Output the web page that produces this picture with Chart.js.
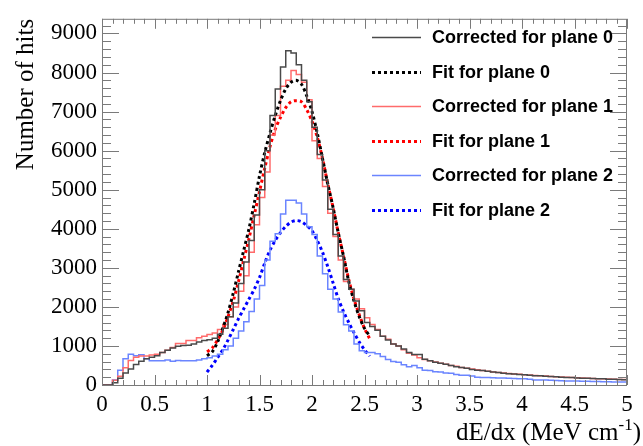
<!DOCTYPE html>
<html>
<head>
<meta charset="utf-8">
<script src="https://cdn.jsdelivr.net/npm/chart.js@4/dist/chart.umd.min.js"></script>
<style>
  html, body { margin: 0; padding: 0; background: #fff; }
  #wrap { width: 643px; height: 446px; }
</style>
</head>
<body>
<div id="wrap"><canvas id="dedxChart" width="643" height="446"></canvas></div>
<script>
// histogram bins: 100 bins of 0.05 from 0 to 5 (values = low edge)
const binWidth = 0.05;
const nBins = 100;

const histPlane0 = [
  0, 0, 60, 175, 310, 410, 525, 610, 670, 710,
  750, 830, 890, 950, 990, 1010, 1020, 1050, 1100, 1140,
  1160, 1200, 1300, 1450, 1750, 2100, 2600, 3150, 3700, 4350,
  5000, 6000, 6900, 7580, 8140, 8560, 8500, 8200, 7800, 7250,
  6600, 5900, 5250, 4500, 3850, 3300, 2700, 2450, 2150, 1900,
  1600, 1500, 1400, 1250, 1150, 1050, 1000, 920, 830, 780,
  780, 660, 620, 580, 560, 530, 500, 470, 450, 430,
  400, 380, 370, 350, 330, 320, 300, 290, 280, 270,
  260, 250, 240, 235, 225, 220, 210, 200, 195, 190,
  180, 175, 170, 168, 160, 158, 150, 145, 140, 135
];

const histPlane1 = [
  0, 0, 120, 225, 440, 625, 710, 740, 740, 770,
  790, 830, 890, 960, 1060, 1060, 1140, 1140, 1210, 1250,
  1290, 1330, 1420, 1550, 1750, 2000, 2400, 2800, 3400, 4100,
  4800, 5450, 6400, 6900, 7650, 7800, 8050, 7950, 7750, 7300,
  6250, 5800, 5080, 4400, 3800, 3200, 2650, 2450, 2200, 1950,
  1720, 1550, 1420, 1250, 1170, 1050, 1000, 900, 810, 770,
  700, 650, 620, 590, 560, 530, 500, 480, 450, 430,
  410, 390, 370, 350, 335, 320, 305, 295, 280, 275,
  265, 255, 245, 235, 228, 220, 212, 205, 198, 190,
  185, 178, 172, 168, 162, 158, 152, 148, 142, 138
];

const histPlane2 = [
  0, 0, 125, 375, 670, 790, 750, 775, 670, 620,
  620, 620, 640, 610, 630, 620, 620, 620, 640, 670,
  700, 740, 790, 900, 1000, 1200, 1380, 1620, 1880, 2200,
  2550, 3200, 3680, 3870, 4380, 4730, 4730, 4660, 4380, 4050,
  3850, 3300, 2850, 2450, 2200, 1870, 1540, 1380, 1050, 880,
  830, 830, 800, 730, 650, 600, 580, 520, 470, 500,
  440, 380, 370, 340, 330, 310, 300, 270, 250, 250,
  230, 200, 195, 190, 185, 180, 180, 170, 165, 160,
  160, 150, 130, 130, 125, 120, 115, 110, 105, 100,
  100, 95, 95, 90, 90, 85, 85, 80, 80, 80
];

// fit curves
const fitX = [
  1.0, 1.05, 1.1, 1.15, 1.2, 1.25, 1.3, 1.35, 1.4, 1.45,
  1.5, 1.55, 1.6, 1.65, 1.7, 1.75, 1.8, 1.85, 1.9, 1.95,
  2.0, 2.05, 2.1, 2.15, 2.2, 2.25, 2.3, 2.35, 2.4, 2.45,
  2.5, 2.55
];
const fitPlane0 = [
  750, 850, 1100, 1450, 1850, 2350, 2900, 3450, 4000, 4650,
  5350, 5950, 6450, 6900, 7280, 7580, 7750, 7800, 7700, 7400,
  7000, 6450, 5800, 5150, 4550, 3900, 3300, 2650, 2150, 1750,
  1450, 1250
];
const fitPlane1 = [
  850, 950, 1150, 1400, 1750, 2150, 2650, 3200, 3750, 4350,
  4950, 5550, 6100, 6550, 6850, 7100, 7250, 7280, 7250, 7050,
  6750, 6350, 5800, 5150, 4550, 3900, 3300, 2700, 2200, 1800,
  1450, 1180
];
const fitPlane2 = [
  330, 500, 700, 900, 1150, 1420, 1700, 1950, 2200, 2450,
  2750, 3120, 3450, 3700, 3900, 4060, 4170, 4210, 4180, 4080,
  3950, 3700, 3400, 3030, 2620, 2210, 1880, 1600, 1340, 1100,
  900, 740
];

const labels = [
  'Corrected for plane 0', 'Fit for plane 0',
  'Corrected for plane 1', 'Fit for plane 1',
  'Corrected for plane 2', 'Fit for plane 2'
];

const xTickValues = [0, 0.5, 1, 1.5, 2, 2.5, 3, 3.5, 4, 4.5, 5];
const yTickValues = [0, 1000, 2000, 3000, 4000, 5000, 6000, 7000, 8000, 9000];

const xMin = 0, xMax = 5;
const yMin = 0, yMax = 9375;

function histPoints(vals) {
  const pts = vals.map((v, i) => ({ x: i * binWidth, y: v }));
  pts.push({ x: nBins * binWidth, y: vals[vals.length - 1] });
  return pts;
}
function fitPoints(vals) {
  return fitX.map((x, i) => ({ x: x, y: vals[i] }));
}

function histSet(label, vals, color) {
  return {
    label: label, data: histPoints(vals), stepped: 'before',
    borderColor: color, borderWidth: 1.5, pointRadius: 0, fill: false
  };
}
function fitSet(label, vals, color) {
  return {
    label: label, data: fitPoints(vals), tension: 0.3,
    borderColor: color, borderWidth: 3, borderDash: [3, 3],
    borderCapStyle: 'butt', pointRadius: 0, fill: false
  };
}

const serif = '"Liberation Serif", "Times New Roman", serif';
const sans = '"Liberation Sans", Arial, Helvetica, sans-serif';
const frameColor = '#7a7a7a';

// ROOT-like frame, inner ticks, axis titles and legend
const rootStyle = {
  id: 'rootStyle',
  afterDraw(chart) {
    const ctx = chart.ctx;
    const a = chart.chartArea;
    const xs = chart.scales.x, ys = chart.scales.y;
    ctx.save();
    ctx.strokeStyle = frameColor;
    ctx.lineWidth = 1;
    ctx.strokeRect(a.left + 0.5, a.top + 0.5, a.right - a.left - 1, a.bottom - a.top);

    ctx.beginPath();
    for (let k = 0; k <= 50; k++) {
      const v = k * 0.1;
      const px = Math.round(xs.getPixelForValue(v)) + 0.5;
      const len = (k % 5 === 0) ? 10 : 5;
      ctx.moveTo(px, a.bottom); ctx.lineTo(px, a.bottom - len);
      ctx.moveTo(px, a.top); ctx.lineTo(px, a.top + len);
    }
    for (let k = 0; k * 200 <= yMax; k++) {
      const v = k * 200;
      const py = Math.round(ys.getPixelForValue(v)) + 0.5;
      const len = (k % 5 === 0) ? 17 : 9;
      ctx.moveTo(a.left, py); ctx.lineTo(a.left + len, py);
      ctx.moveTo(a.right, py); ctx.lineTo(a.right - len, py);
    }
    ctx.stroke();

    // axis titles
    ctx.fillStyle = '#000';
    ctx.font = '25px ' + serif;
    ctx.textBaseline = 'alphabetic';
    const closeW = ctx.measureText(')').width;
    ctx.font = '17px ' + serif;
    const supW = ctx.measureText('-1').width;
    ctx.font = '25px ' + serif;
    const mainTxt = 'dE/dx (MeV cm';
    const mainW = ctx.measureText(mainTxt).width;
    let tx = 641 - closeW - supW - mainW;
    const ty = 440;
    ctx.textAlign = 'left';
    ctx.fillText(mainTxt, tx, ty);
    ctx.font = '17px ' + serif;
    ctx.fillText('-1', tx + mainW, ty - 10);
    ctx.font = '25px ' + serif;
    ctx.fillText(')', tx + mainW + supW, ty);

    ctx.save();
    ctx.translate(33, a.top);
    ctx.rotate(-Math.PI / 2);
    ctx.textAlign = 'right';
    ctx.fillText('Number of hits', 0, 0);
    ctx.restore();

    // legend
    ctx.font = 'bold 18px ' + sans;
    ctx.textAlign = 'left';
    ctx.textBaseline = 'middle';
    chart.data.datasets.forEach((ds, i) => {
      const y = 37 + i * 34.6;
      ctx.save();
      ctx.strokeStyle = ds.borderColor;
      ctx.lineWidth = ds.borderWidth;
      ctx.setLineDash(ds.borderDash || []);
      ctx.beginPath();
      ctx.moveTo(372, Math.round(y) + 0.5);
      ctx.lineTo(421, Math.round(y) + 0.5);
      ctx.stroke();
      ctx.restore();
      ctx.fillStyle = '#000';
      ctx.fillText(ds.label, 432, y + 1);
    });
    ctx.restore();
  }
};

const ctx = document.getElementById('dedxChart').getContext('2d');

new Chart(ctx, {
  type: 'line',
  data: {
    datasets: [
      histSet(labels[0], histPlane0, '#4a4a4a'),
      fitSet(labels[1], fitPlane0, '#000000'),
      histSet(labels[2], histPlane1, '#ff6b6b'),
      fitSet(labels[3], fitPlane1, '#ff0000'),
      histSet(labels[4], histPlane2, '#6b85ff'),
      fitSet(labels[5], fitPlane2, '#0000ff')
    ]
  },
  options: {
    responsive: false,
    animation: false,
    layout: { padding: { left: 0, right: 16, top: 10, bottom: 0 } },
    plugins: {
      legend: { display: false },
      tooltip: { enabled: false }
    },
    scales: {
      x: {
        type: 'linear',
        min: xMin,
        max: xMax,
        afterBuildTicks: (s) => { s.ticks = xTickValues.map(v => ({ value: v })); },
        afterFit: (s) => { s.height = 61; },
        grid: { display: false, drawTicks: false },
        border: { display: false },
        ticks: {
          padding: 6,
          maxRotation: 0,
          autoSkip: false,
          color: '#000',
          font: { family: serif, size: 23 },
          callback: (v) => String(v)
        }
      },
      y: {
        type: 'linear',
        min: yMin,
        max: yMax,
        afterBuildTicks: (s) => { s.ticks = yTickValues.map(v => ({ value: v })); },
        afterFit: (s) => { s.width = 102; },
        grid: { display: false, drawTicks: false },
        border: { display: false },
        ticks: {
          padding: 5,
          autoSkip: false,
          color: '#000',
          font: { family: serif, size: 23 },
          callback: (v) => String(v)
        }
      }
    }
  },
  plugins: [rootStyle]
});
</script>
</body>
</html>
